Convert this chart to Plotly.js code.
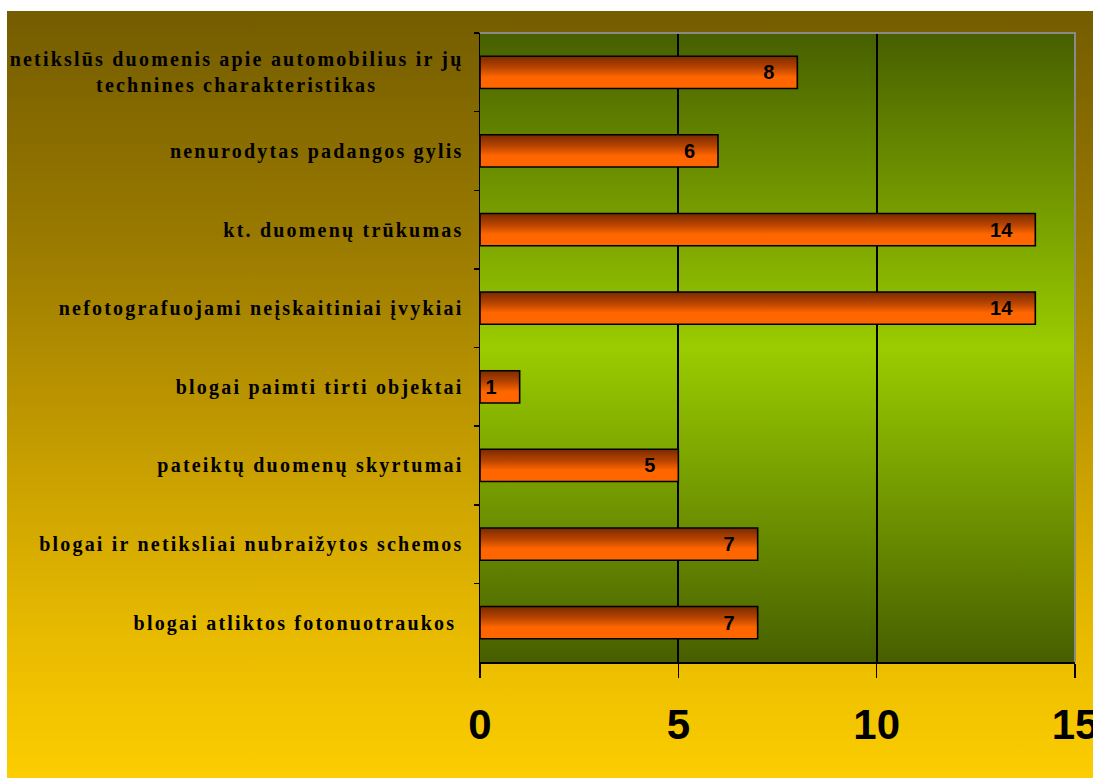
<!DOCTYPE html>
<html>
<head>
<meta charset="utf-8">
<script src="https://cdn.plot.ly/plotly-3.0.1.min.js"></script>
<style>
  html, body { margin: 0; padding: 0; background: #ffffff; }
  #wrap { position: relative; width: 1093px; height: 778px; overflow: hidden; }
  #backdrop {
    position: absolute; left: 7px; top: 11px; right: 0; bottom: 0;
    background: linear-gradient(to bottom, #745c00 0%, #9a7a00 30%, #c9a000 60%, #e8bb00 82%, #fccd00 100%);
  }
  #chart { position: absolute; left: 0; top: 0; width: 1093px; height: 778px; }
  #chart .ytick text { letter-spacing: 2.2px; }
</style>
</head>
<body>
<svg width="0" height="0" style="position:absolute">
  <defs>
    <linearGradient id="plotFill" x1="0" y1="0" x2="0" y2="1">
      <stop offset="0" stop-color="#475f00"/>
      <stop offset="0.5" stop-color="#9acc00"/>
      <stop offset="1" stop-color="#475f00"/>
    </linearGradient>
    <linearGradient id="barFill" x1="0" y1="0" x2="0" y2="1">
      <stop offset="0" stop-color="#7a2a00"/>
      <stop offset="0.35" stop-color="#b84400"/>
      <stop offset="0.65" stop-color="#ff6600"/>
      <stop offset="1" stop-color="#ff6600"/>
    </linearGradient>
  </defs>
</svg>
<div id="wrap">
  <div id="backdrop"></div>
  <div id="chart"></div>
</div>
<script>
// Reasons listed top to bottom
const categories = [
  "netikslūs duomenis apie automobilius ir jų<br>technines charakteristikas",
  "nenurodytas padangos gylis",
  "kt. duomenų trūkumas",
  "nefotografuojami neįskaitiniai įvykiai",
  "blogai paimti tirti objektai",
  "pateiktų duomenų skyrtumai",
  "blogai ir netiksliai nubraižytos schemos",
  "blogai atliktos fotonuotraukos "
];
const counts = [8, 6, 14, 14, 1, 5, 7, 7];
const xTicks = [0, 5, 10, 15];

const trace = {
  type: "bar",
  orientation: "h",
  y: categories,
  x: counts,
  texttemplate: "%{x}\u2003",
  textposition: "inside",
  insidetextanchor: "end",
  constraintext: "none",
  textangle: 0,
  cliponaxis: false,
  insidetextfont: { family: "Liberation Sans, Arial, sans-serif", size: 20, color: "#000000", weight: "bold" },
  marker: { color: "#ff6600", line: { color: "#000000", width: 1.6 } },
  hoverinfo: "skip"
};

const layout = {
  width: 1093,
  height: 778,
  margin: { l: 480, r: 18, t: 33, b: 116 },
  paper_bgcolor: "rgba(0,0,0,0)",
  plot_bgcolor: "#8fbf00",
  showlegend: false,
  bargap: 0.59,
  xaxis: {
    range: [0, 15],
    tickvals: xTicks,
    ticks: "outside",
    ticklen: 14,
    tickwidth: 1.5,
    tickcolor: "#000000",
    showline: true,
    linecolor: "#000000",
    linewidth: 1.5,
    showgrid: true,
    gridcolor: "#000000",
    gridwidth: 1.8,
    zeroline: false,
    ticklabelstandoff: 11,
    ticklabeloverflow: "allow",
    tickfont: { family: "Liberation Sans, Arial, sans-serif", size: 42, color: "#000000", weight: "bold" }
  },
  yaxis: {
    type: "category",
    categoryorder: "array",
    categoryarray: categories,
    autorange: "reversed",
    tickson: "boundaries",
    ticks: "outside",
    ticklen: 5,
    tickwidth: 1.5,
    tickcolor: "#000000",
    showline: true,
    linecolor: "#000000",
    linewidth: 1.5,
    showgrid: false,
    zeroline: false,
    ticklabelstandoff: 11,
    tickfont: { family: "Liberation Serif, Times New Roman, serif", size: 20, color: "#000000", weight: "bold" }
  },
  shapes: [
    { type: "path", xref: "paper", yref: "paper", path: "M0,1 L1,1 L1,0",
      line: { color: "#8a8a8a", width: 2 }, layer: "above" }
  ]
};

Plotly.newPlot("chart", [trace], layout, { staticPlot: true, displayModeBar: false }).then(function (gd) {
  // shade the plotting area and the bars with vertical gradients
  gd.querySelectorAll("rect.bg").forEach(function (r) { r.style.fill = "url(#plotFill)"; });
  gd.querySelectorAll(".bars .point path").forEach(function (p) { p.style.fill = "url(#barFill)"; });

  // centre the two-line category label on itself
  gd.querySelectorAll(".ytick text").forEach(function (t) {
    const lines = t.querySelectorAll("tspan.line");
    if (lines.length > 1) {
      const bb = t.getBBox();
      const cx = bb.x + bb.width / 2;
      t.setAttribute("text-anchor", "middle");
      t.setAttribute("x", cx);
      lines.forEach(function (s) { s.setAttribute("x", cx); });
    }
  });
});
</script>
</body>
</html>
